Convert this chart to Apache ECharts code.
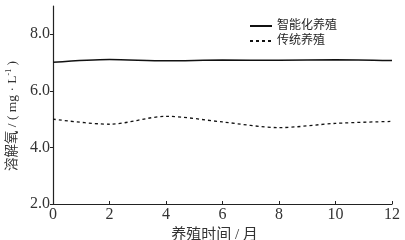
<!DOCTYPE html>
<html><head><meta charset="utf-8">
<script src="https://cdn.jsdelivr.net/npm/echarts@6/dist/echarts.min.js"></script>
<style>html,body{margin:0;padding:0;background:#fff}#c{width:405px;height:240px}</style>
</head><body><div id="c"></div>
<script>
const months = [0, 2, 4, 6, 8, 10, 12];
const smartFarming = [7.01, 7.11, 7.06, 7.09, 7.08, 7.10, 7.07];
const traditionalFarming = [5.00, 4.82, 5.10, 4.90, 4.70, 4.85, 4.92];
const seriesNames = ['智能化养殖', '传统养殖'];
const yTicks = [2, 4, 6, 8];
const xTicks = [0, 2, 4, 6, 8, 10, 12];

const serif = "'Liberation Serif','Noto Sans CJK SC',serif";
const chart = echarts.init(document.getElementById('c'));
chart.setOption({
  animation: false,
  grid: {left: 53, right: 13, top: 6, bottom: 36, containLabel: false, outerBoundsMode: 'none'},
  legend: {
    orient: 'vertical', left: 244, top: 15, itemWidth: 22, itemHeight: 10, itemGap: 3,
    itemStyle: {opacity: 0},
    textStyle: {fontFamily: serif, fontSize: 12, color: '#222'},
    data: seriesNames
  },
  xAxis: {
    type: 'value', min: 0, max: 12, interval: 2,
    name: '养殖时间 / 月', nameLocation: 'middle', nameGap: 21,
    nameTextStyle: {fontFamily: serif, fontSize: 15, color: '#333', padding: [0, 16, 0, 0]},
    axisLine: {lineStyle: {color: '#222', width: 1.2}},
    axisTick: {inside: true, length: 3, lineStyle: {color: '#222'}},
    axisLabel: {fontFamily: serif, fontSize: 16, color: '#333', margin: 3,
      customValues: xTicks},
    splitLine: {show: false}
  },
  yAxis: {
    type: 'value', min: 2, max: 9,
    name: '{a|溶解氧 / ( mg · L}{s|-1}{a| )}', nameLocation: 'middle', nameGap: 28, nameRotate: 90,
    nameTextStyle: {padding: [0, 22, 0, 0], rich: {
      a: {fontFamily: serif, fontSize: 13.5, color: '#333'},
      s: {fontFamily: serif, fontSize: 8, color: '#333', verticalAlign: 'top', padding: [0,0,6,0]}
    }},
    axisLine: {show: true, lineStyle: {color: '#222', width: 1.2}},
    axisTick: {show: true, length: 3, lineStyle: {color: '#222'}, customValues: yTicks},
    axisLabel: {fontFamily: serif, fontSize: 16, color: '#333', margin: 3,
      customValues: yTicks, formatter: v => v.toFixed(1)},
    splitLine: {show: false}
  },
  series: [
    {name: seriesNames[0], type: 'line', symbol: 'none', smooth: 0.3,
     lineStyle: {color: '#111', width: 1.5},
     itemStyle: {color: '#111'},
     data: months.map((m, i) => [m, smartFarming[i]])},
    {name: seriesNames[1], type: 'line', symbol: 'none', smooth: 0.3,
     lineStyle: {color: '#111', width: 1.3, type: [3, 3]},
     itemStyle: {color: '#111'},
     data: months.map((m, i) => [m, traditionalFarming[i]])}
  ]
});
</script></body></html>
